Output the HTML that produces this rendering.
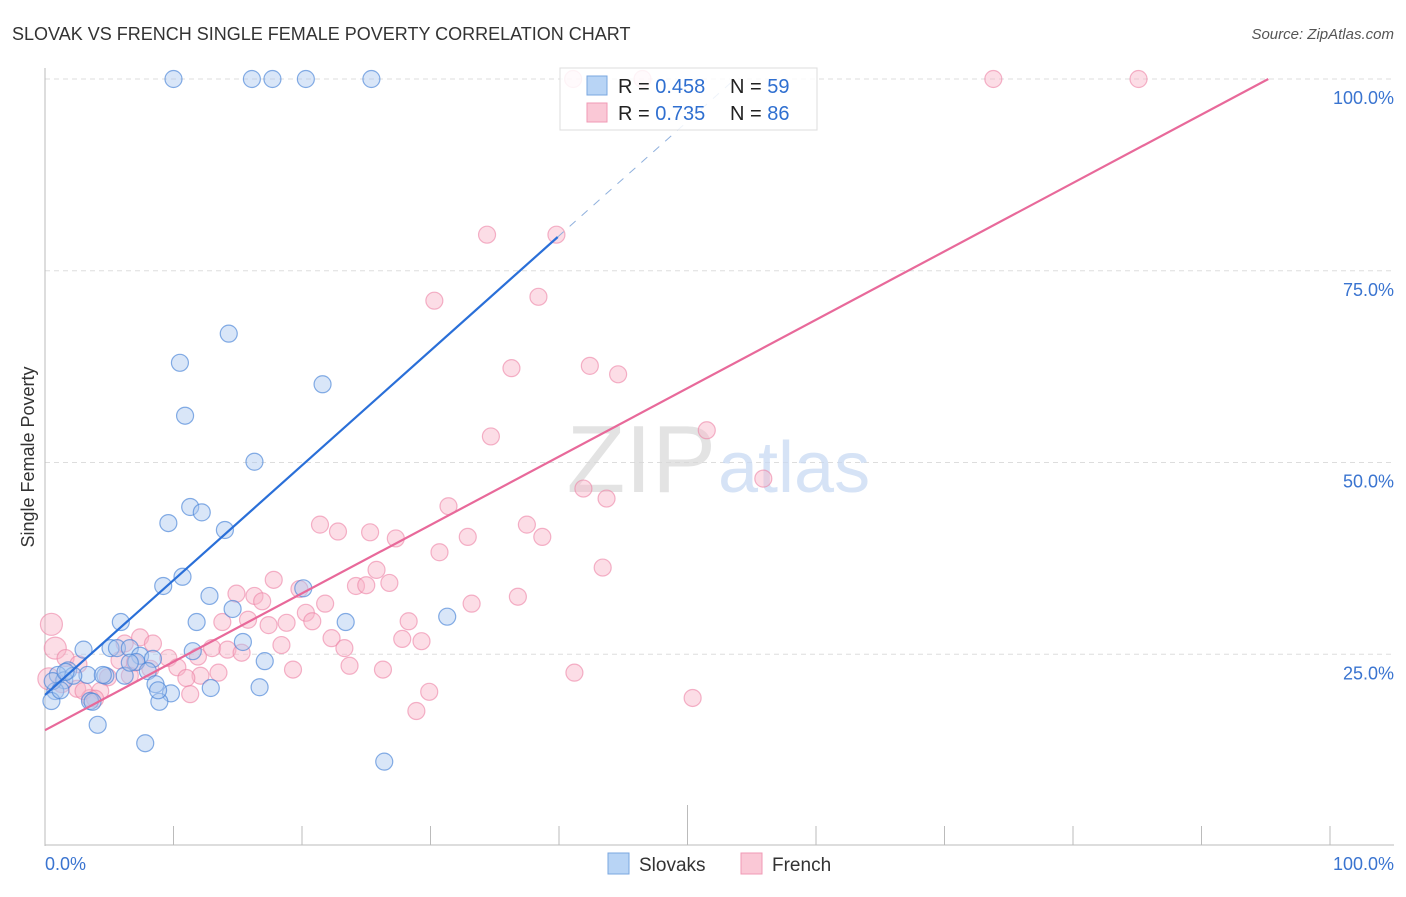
<!DOCTYPE html>
<html><head><meta charset="utf-8"><style>
body{margin:0;background:#fff;font-family:"Liberation Sans",sans-serif;}
svg text{font-family:"Liberation Sans",sans-serif;}
</style></head><body>
<svg id="chart" width="1406" height="892" xmlns="http://www.w3.org/2000/svg">
<text x="12" y="40" font-size="18" fill="#333">SLOVAK VS FRENCH SINGLE FEMALE POVERTY CORRELATION CHART</text>
<text x="1394" y="39" font-size="15" fill="#555" font-style="italic" text-anchor="end">Source: ZipAtlas.com</text>
<text x="34" y="457" font-size="18" fill="#333" text-anchor="middle" transform="rotate(-90 34 457)">Single Female Poverty</text>
<g id="grid"></g>
<text x="716" y="492" font-size="96" fill="#d8d8d8" opacity="0.7" font-family="Liberation Serif" text-anchor="end">ZIP</text>
<text x="718" y="492" font-size="72" fill="#c9daf3" opacity="0.75">atlas</text>
<g id="marks"></g>
<g id="lines"></g>
<g>
<rect x="560" y="68" width="257" height="62" fill="rgba(255,255,255,0.85)" stroke="#ddd"/>
<rect x="587" y="76" width="20" height="19" fill="#b8d4f5" stroke="#7aa7e0"/>
<rect x="587" y="103" width="20" height="19" fill="#fac8d6" stroke="#f09ab5"/>
<text x="618" y="93" font-size="20" fill="#222">R = <tspan fill="#2f6fd0">0.458</tspan></text>
<text x="730" y="93" font-size="20" fill="#222">N = <tspan fill="#2f6fd0">59</tspan></text>
<text x="618" y="120" font-size="20" fill="#222">R = <tspan fill="#2f6fd0"> 0.735</tspan></text>
<text x="730" y="120" font-size="20" fill="#222">N = <tspan fill="#2f6fd0">86</tspan></text>
</g>
<g>
<rect x="608" y="853" width="21" height="21" fill="#b8d4f5" stroke="#7aa7e0"/>
<text x="639" y="871" font-size="19" fill="#333">Slovaks</text>
<rect x="741" y="853" width="21" height="21" fill="#fac8d6" stroke="#f09ab5"/>
<text x="772" y="871" font-size="19" fill="#333">French</text>
</g>
<text x="45" y="870" font-size="18" fill="#3a74d0">0.0%</text>
<text x="1394" y="870" font-size="18" fill="#3a74d0" text-anchor="end">100.0%</text>
</svg>
<script>
const yTicks=[100,75,50,25];
const yTickLabels=["100.0%","75.0%","50.0%","25.0%"];
const slovakX=[10,16.1,17.7,20.3,25.4,14.3,10.5,21.6,10.9,16.3,11.3,12.2,9.6,14,10.7,9.2,12.8,14.6,20.1,5.9,11.8,23.4,31.3,3,5.1,5.6,6.6,11.5,15.4,7.4,8.4,7.1,1.8,1,3.3,4.7,6.2,8,17.1,1.5,2.2,8.6,12.9,16.7,0.8,9.8,8.9,0.5,3.5,3.7,4.1,7.8,26.4,0.6,1.6,6.6,8.8,4.5,1.2];
const slovakY=[100,100,100,100,100,66.8,63,60.2,56.1,50.1,44.2,43.5,42.1,41.2,35.1,33.9,32.6,30.9,33.6,29.2,29.2,29.2,29.9,25.6,25.8,25.8,25.8,25.4,26.6,24.8,24.4,24,22.9,22.3,22.3,22.2,22.2,22.8,24.1,21.6,22.2,21.1,20.6,20.7,20.2,19.9,18.8,18.9,18.9,18.8,15.8,13.4,11,21.5,22.7,23.9,20.3,22.3,20.3];
const frenchX=[41.1,46.5,73.8,85.1,34.4,39.8,30.3,38.4,36.3,42.4,44.6,34.7,51.5,55.9,41.9,43.7,31.4,21.4,37.5,22.8,25.3,27.3,32.9,38.7,30.7,43.4,25.8,17.8,26.8,24.2,25,14.9,16.3,16.9,19.8,21.8,33.2,36.8,20.3,20.8,28.3,13.8,15.8,17.4,18.8,22.3,7.4,8.4,18.4,27.8,29.3,6.2,0.5,0.8,23.3,13,14.2,15.3,9.6,1.6,5.8,7,10.3,11.9,19.3,23.7,26.3,12.1,13.5,11,41.2,6.6,4.9,2.5,4.3,3.5,3,11.3,29.9,28.9,50.4,2.6,1.3,3.9,8.2,0.3];
const frenchY=[100,100,100,100,79.7,79.7,71.1,71.6,62.3,62.6,61.5,53.4,54.2,47.9,46.6,45.3,44.3,41.9,41.9,41,40.9,40.1,40.3,40.3,38.3,36.3,36,34.7,34.3,33.9,34,32.9,32.6,31.9,33.5,31.6,31.6,32.5,30.4,29.3,29.3,29.2,29.5,28.8,29.1,27.1,27.2,26.4,26.2,27,26.7,26.4,28.9,25.8,25.8,25.8,25.6,25.2,24.5,24.5,24.2,23.9,23.3,24.7,23,23.5,23,22.2,22.6,21.9,22.6,22.2,22,20.5,20.2,19.3,20.2,19.8,20.1,17.6,19.3,23.7,21.1,19.2,23.1,21.8];
const slovakTrend=[[0,19.7],[39.9,79.4]];
const slovakTrendExt=[[39.9,79.4],[53.7,100]];
const frenchTrend=[[0,15.1],[95.2,100]];
const X0=45,X1=1330,Y0=846,Y1=79;
const sx=v=>X0+(X1-X0)*v/100;
const sy=v=>Y0-(Y0-Y1)*v/100;
const NS="http://www.w3.org/2000/svg";
const grid=document.getElementById('grid'),marks=document.getElementById('marks'),lines=document.getElementById('lines');
function mk(tag,attrs,parent){const e=document.createElementNS(NS,tag);for(const k in attrs)e.setAttribute(k,attrs[k]);parent.appendChild(e);return e;}
yTicks.forEach((t,i)=>{
 const l=mk('line',{x1:X0,x2:1394,y1:sy(t),y2:sy(t),stroke:'#ddd','stroke-dasharray':'5,4'},grid);
 
 
 const tx=mk('text',{x:1394,y:sy(t)+25,'font-size':18,fill:'#3a74d0','text-anchor':'end'},grid);
 tx.textContent=yTickLabels[i];
 
 
});
const ax=mk('line',{x1:X0,x2:X0,y1:68,y2:Y0,stroke:'#bbb'},grid);


const bx=mk('line',{x1:X0,x2:1394,y1:845,y2:845,stroke:'#bbb'},grid);


for(let i=1;i<=10;i++){
 const t=mk('line',{x1:sx(i*10),x2:sx(i*10),y1:i==5?805:826,y2:845,stroke:'#bbb'},grid);
 
 
}
frenchX.forEach((x,i)=>{
 const c=mk('circle',{cx:sx(x),cy:sy(frenchY[i]),r:x<1?11:8.5,fill:'rgba(248,180,200,0.45)',stroke:'rgba(236,130,165,0.6)','stroke-width':1.2},marks);
 
 
});
slovakX.forEach((x,i)=>{
 const c=mk('circle',{cx:sx(x),cy:sy(slovakY[i]),r:8.5,fill:'rgba(170,200,240,0.45)',stroke:'rgba(70,130,215,0.65)','stroke-width':1.2},marks);
 
 
});
function ln(p,col,dash,name){
 const l=mk('line',{x1:sx(p[0][0]),y1:sy(p[0][1]),x2:sx(p[1][0]),y2:sy(p[1][1]),stroke:col,'stroke-width':dash?1:2.2},lines);
 if(dash)l.setAttribute('stroke-dasharray','8,8');
 
 
}
ln(slovakTrend,'#2a6fd8',false,'slovak-trend-line');
ln(slovakTrendExt,'#8fb0dd',true,'slovak-trend-extension');
ln(frenchTrend,'#e8699a',false,'french-trend-line');
</script>
</body></html>
